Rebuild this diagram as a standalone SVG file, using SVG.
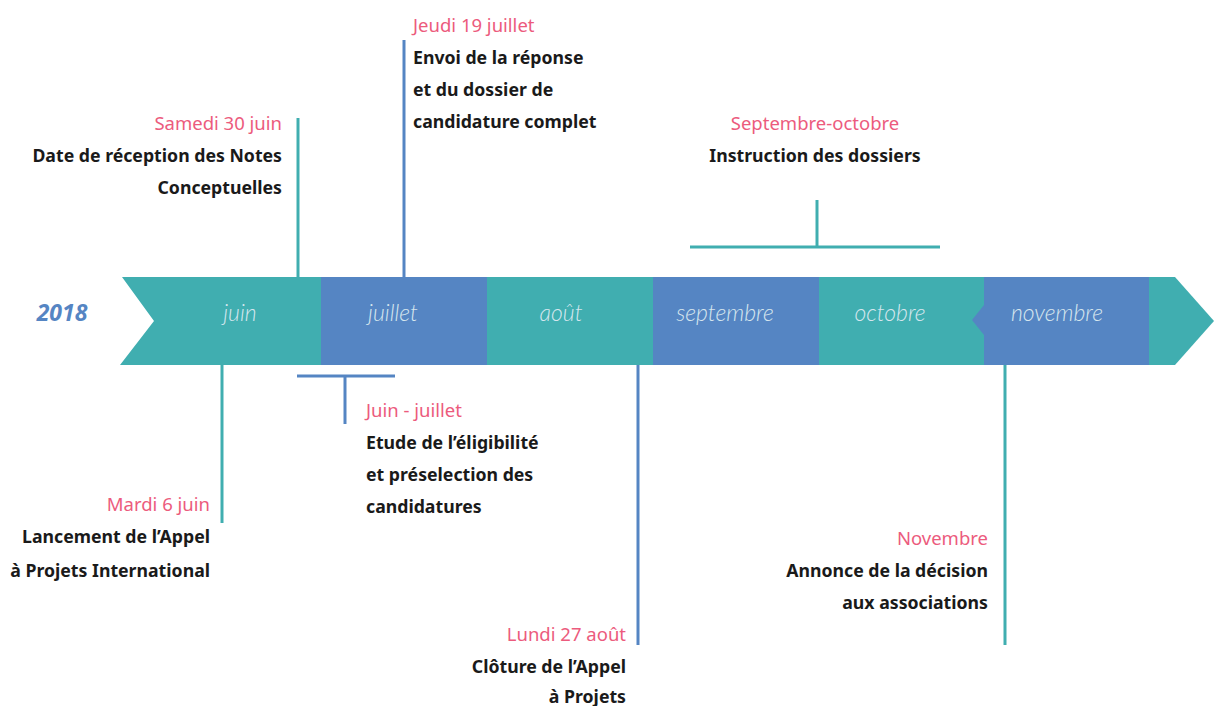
<svg xmlns="http://www.w3.org/2000/svg" width="1214" height="706" viewBox="0 0 1214 706">
<style>
.teal{fill:#40AEB0}
.blue{fill:#5585C3}
.month{font-family:"Source Sans Pro","Lato","Open Sans",sans-serif;font-style:italic;font-weight:300;font-size:23px;fill:#D5E6EE;text-anchor:middle}
.date{font-family:"Source Sans Pro","Noto Sans",sans-serif;font-size:18.5px;fill:#EC5B7D}
.desc{font-family:"Source Sans Pro","Noto Sans",sans-serif;font-size:17.7px;font-weight:bold;fill:#1a1a1a}
.lt{stroke:#40AEB0;stroke-width:3;fill:none}
.lb{stroke:#5585C3;stroke-width:3;fill:none}
.end{text-anchor:end}
.mid{text-anchor:middle}
</style>
<rect width="1214" height="706" fill="#ffffff"/>
<g id="band">
<polygon class="teal" points="122,277 321,277 321,365 120,365 154,321"/>
<rect class="blue" x="321" y="277" width="166" height="88"/>
<rect class="teal" x="487" y="277" width="166" height="88"/>
<rect class="blue" x="653" y="277" width="166" height="88"/>
<rect class="teal" x="819" y="277" width="165" height="88"/>
<polygon class="blue" points="984,277 1149,277 1149,365 984,365 984,335 972,320 984,305"/>
<polygon class="teal" points="1149,277 1175,277 1214,321 1175,365 1149,365"/>
<text class="month" x="240" y="321">juin</text>
<text class="month" x="393" y="321">juillet</text>
<text class="month" x="561" y="321">août</text>
<text class="month" x="725" y="321">septembre</text>
<text class="month" x="890" y="321">octobre</text>
<text class="month" x="1057" y="321">novembre</text>
</g>
<g id="year"><text x="62" y="321" font-family="Source Sans Pro, Noto Sans, sans-serif" font-size="23" font-weight="bold" font-style="italic" fill="#5585C3" text-anchor="middle">2018</text></g>
<g id="connectors">
<line class="lt" x1="298" y1="118" x2="298" y2="277"/>
<line class="lb" x1="404" y1="40" x2="404" y2="277"/>
<line class="lt" x1="817" y1="200" x2="817" y2="247"/>
<line class="lt" x1="690" y1="247" x2="940" y2="247"/>
<line class="lt" x1="222" y1="365" x2="222" y2="523"/>
<line class="lb" x1="297" y1="376" x2="395" y2="376"/>
<line class="lb" x1="345" y1="376" x2="345" y2="424"/>
<line class="lb" x1="638" y1="365" x2="638" y2="645"/>
<line class="lt" x1="1005" y1="365" x2="1005" y2="645"/>
</g>
<g id="n-jeudi">
<text class="date" x="413" y="32">Jeudi 19 juillet</text>
<text class="desc" x="413" y="64">Envoi de la réponse</text>
<text class="desc" x="413" y="96">et du dossier de</text>
<text class="desc" x="413" y="128">candidature complet</text>
</g>
<g id="n-samedi">
<text class="date end" x="282" y="130">Samedi 30 juin</text>
<text class="desc end" x="282" y="162">Date de réception des Notes</text>
<text class="desc end" x="282" y="194">Conceptuelles</text>
</g>
<g id="n-septoct">
<text class="date mid" x="815" y="130">Septembre-octobre</text>
<text class="desc mid" x="815" y="162">Instruction des dossiers</text>
</g>
<g id="n-juinjuillet">
<text class="date" x="366" y="417">Juin - juillet</text>
<text class="desc" x="366" y="449">Etude de l’éligibilité</text>
<text class="desc" x="366" y="481">et préselection des</text>
<text class="desc" x="366" y="513">candidatures</text>
</g>
<g id="n-mardi">
<text class="date end" x="210" y="511">Mardi 6 juin</text>
<text class="desc end" x="210" y="543">Lancement de l’Appel</text>
<text class="desc end" x="210" y="577">à Projets International</text>
</g>
<g id="n-lundi">
<text class="date end" x="626" y="641">Lundi 27 août</text>
<text class="desc end" x="626" y="673">Clôture de l’Appel</text>
<text class="desc end" x="626" y="703">à Projets</text>
</g>
<g id="n-novembre">
<text class="date end" x="988" y="545">Novembre</text>
<text class="desc end" x="988" y="577">Annonce de la décision</text>
<text class="desc end" x="988" y="609">aux associations</text>
</g>
</svg>
